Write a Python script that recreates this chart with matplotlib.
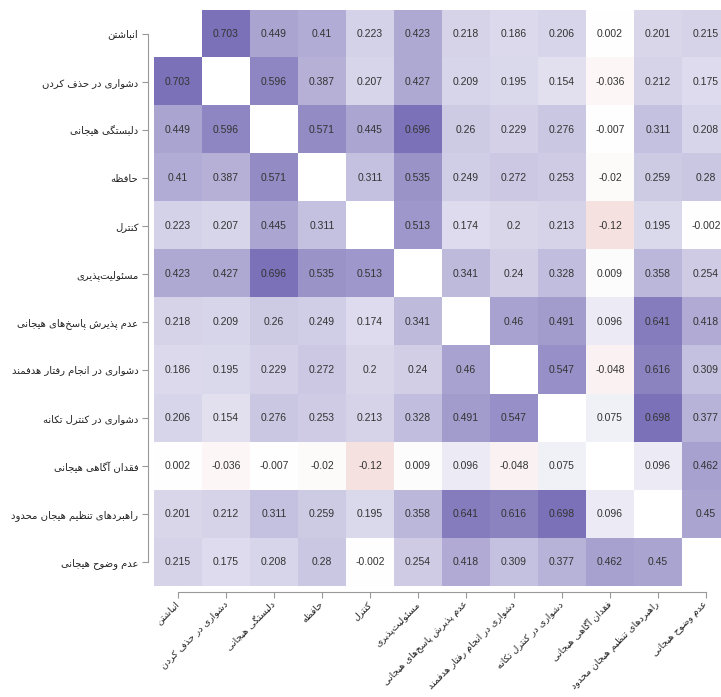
import numpy as np
import matplotlib
matplotlib.use("Agg")
import matplotlib.pyplot as plt
from matplotlib.colors import LinearSegmentedColormap

labels = [
    "انباشتن",
    "دشواری در حذف کردن",
    "دلبستگی هیجانی",
    "حافظه",
    "کنترل",
    "مسئولیت\u200cپذیری",
    "عدم پذیرش پاسخ\u200cهای هیجانی",
    "دشواری در انجام رفتار هدفمند",
    "دشواری در کنترل تکانه",
    "فقدان آگاهی هیجانی",
    "راهبردهای تنظیم هیجان محدود",
    "عدم وضوح هیجانی",
]

row1 = [None, 0.703, 0.449, 0.41, 0.223, 0.423, 0.218, 0.186, 0.206, 0.002, 0.201, 0.215]
row2 = [0.703, None, 0.596, 0.387, 0.207, 0.427, 0.209, 0.195, 0.154, -0.036, 0.212, 0.175]
row3 = [0.449, 0.596, None, 0.571, 0.445, 0.696, 0.26, 0.229, 0.276, -0.007, 0.311, 0.208]
row4 = [0.41, 0.387, 0.571, None, 0.311, 0.535, 0.249, 0.272, 0.253, -0.02, 0.259, 0.28]
row5 = [0.223, 0.207, 0.445, 0.311, None, 0.513, 0.174, 0.2, 0.213, -0.12, 0.195, -0.002]
row6 = [0.423, 0.427, 0.696, 0.535, 0.513, None, 0.341, 0.24, 0.328, 0.009, 0.358, 0.254]
row7 = [0.218, 0.209, 0.26, 0.249, 0.174, 0.341, None, 0.46, 0.491, 0.096, 0.641, 0.418]
row8 = [0.186, 0.195, 0.229, 0.272, 0.2, 0.24, 0.46, None, 0.547, -0.048, 0.616, 0.309]
row9 = [0.206, 0.154, 0.276, 0.253, 0.213, 0.328, 0.491, 0.547, None, 0.075, 0.698, 0.377]
row10 = [0.002, -0.036, -0.007, -0.02, -0.12, 0.009, 0.096, -0.048, 0.075, None, 0.096, 0.462]
row11 = [0.201, 0.212, 0.311, 0.259, 0.195, 0.358, 0.641, 0.616, 0.698, 0.096, None, 0.45]
row12 = [0.215, 0.175, 0.208, 0.28, -0.002, 0.254, 0.418, 0.309, 0.377, 0.462, 0.45, None]
rows = [row1, row2, row3, row4, row5, row6, row7, row8, row9, row10, row11, row12]

# ---- minimal Arabic/Persian shaping (matplotlib does no text shaping) ----
FORMS = {
    '\u0627': ('\uFE8D', '\uFE8E', None, None),
    '\u0622': ('\uFE81', '\uFE82', None, None),
    '\u0628': ('\uFE8F', '\uFE90', '\uFE91', '\uFE92'),
    '\u067E': ('\uFB56', '\uFB57', '\uFB58', '\uFB59'),
    '\u062A': ('\uFE95', '\uFE96', '\uFE97', '\uFE98'),
    '\u062C': ('\uFE9D', '\uFE9E', '\uFE9F', '\uFEA0'),
    '\u062D': ('\uFEA1', '\uFEA2', '\uFEA3', '\uFEA4'),
    '\u062E': ('\uFEA5', '\uFEA6', '\uFEA7', '\uFEA8'),
    '\u062F': ('\uFEA9', '\uFEAA', None, None),
    '\u0630': ('\uFEAB', '\uFEAC', None, None),
    '\u0631': ('\uFEAD', '\uFEAE', None, None),
    '\u0632': ('\uFEAF', '\uFEB0', None, None),
    '\u0633': ('\uFEB1', '\uFEB2', '\uFEB3', '\uFEB4'),
    '\u0634': ('\uFEB5', '\uFEB6', '\uFEB7', '\uFEB8'),
    '\u0636': ('\uFEBD', '\uFEBE', '\uFEBF', '\uFEC0'),
    '\u0638': ('\uFEC5', '\uFEC6', '\uFEC7', '\uFEC8'),
    '\u0639': ('\uFEC9', '\uFECA', '\uFECB', '\uFECC'),
    '\u0641': ('\uFED1', '\uFED2', '\uFED3', '\uFED4'),
    '\u0642': ('\uFED5', '\uFED6', '\uFED7', '\uFED8'),
    '\u06A9': ('\uFB8E', '\uFB8F', '\uFB90', '\uFB91'),
    '\u06AF': ('\uFB92', '\uFB93', '\uFB94', '\uFB95'),
    '\u0644': ('\uFEDD', '\uFEDE', '\uFEDF', '\uFEE0'),
    '\u0645': ('\uFEE1', '\uFEE2', '\uFEE3', '\uFEE4'),
    '\u0646': ('\uFEE5', '\uFEE6', '\uFEE7', '\uFEE8'),
    '\u0647': ('\uFEE9', '\uFEEA', '\uFEEB', '\uFEEC'),
    '\u0648': ('\uFEED', '\uFEEE', None, None),
    '\u06CC': ('\uFBFC', '\uFBFD', '\uFBFE', '\uFBFF'),
    '\u0626': ('\uFE89', '\uFE8A', '\uFE8B', '\uFE8C'),
}


def shape(text):
    out = []
    n = len(text)
    for i, ch in enumerate(text):
        f = FORMS.get(ch)
        if f is None:
            if ch != '\u200c':
                out.append(ch)
            continue
        prev = text[i - 1] if i > 0 else ''
        nxt = text[i + 1] if i + 1 < n else ''
        join_prev = prev in FORMS and FORMS[prev][2] is not None
        join_next = f[2] is not None and nxt in FORMS
        if join_prev and join_next:
            out.append(f[3])
        elif join_prev:
            out.append(f[1])
        elif join_next:
            out.append(f[2])
        else:
            out.append(f[0])
    return ''.join(reversed(out))


shown = [shape(s) for s in labels]

n = len(labels)
M = np.array([[np.nan if v is None else v for v in r] for r in rows], dtype=float)

cmap = LinearSegmentedColormap.from_list(
    "corr", [(0.0, "#aa0a00"), (0.5, "#ffffff"), (1.0, "#43369a")])
cmap.set_bad("white")

fig = plt.figure(figsize=(7.21, 6.97), dpi=100)
ax = fig.add_axes([154 / 721, 1 - 586.5 / 697, 576 / 721, 577 / 697])
ax.imshow(np.ma.masked_invalid(M), cmap=cmap, vmin=-1, vmax=1,
          aspect="auto", interpolation="nearest")

for i in range(n):
    for j in range(n):
        v = rows[i][j]
        if v is not None:
            ax.text(j, i, repr(v), ha="center", va="center",
                    fontsize=7.5, color="#333333", family="Liberation Sans")

for side in ("top", "right"):
    ax.spines[side].set_visible(False)
for side in ("left", "bottom"):
    ax.spines[side].set_color("#999999")
    ax.spines[side].set_linewidth(0.8)
    ax.spines[side].set_position(("outward", 4))

ax.set_xlim(-0.5, n - 0.5)
ax.set_ylim(n - 0.5, -0.5)
ax.spines["left"].set_bounds(0, n - 1)
ax.spines["bottom"].set_bounds(0, n - 1)
ax.set_xticks(range(n))
ax.set_yticks(range(n))
ax.set_xticklabels(shown, rotation=45, ha="right", va="center",
                   rotation_mode="anchor", fontsize=6.8, family="DejaVu Sans",
                   color="#222222")
ax.set_yticklabels(shown, fontsize=7.2, family="DejaVu Sans", color="#222222")
ax.tick_params(length=4.3, width=0.8, color="#999999", pad=3)
ax.tick_params(axis="x", pad=3.5)

fig.savefig("out.png", dpi=100)
